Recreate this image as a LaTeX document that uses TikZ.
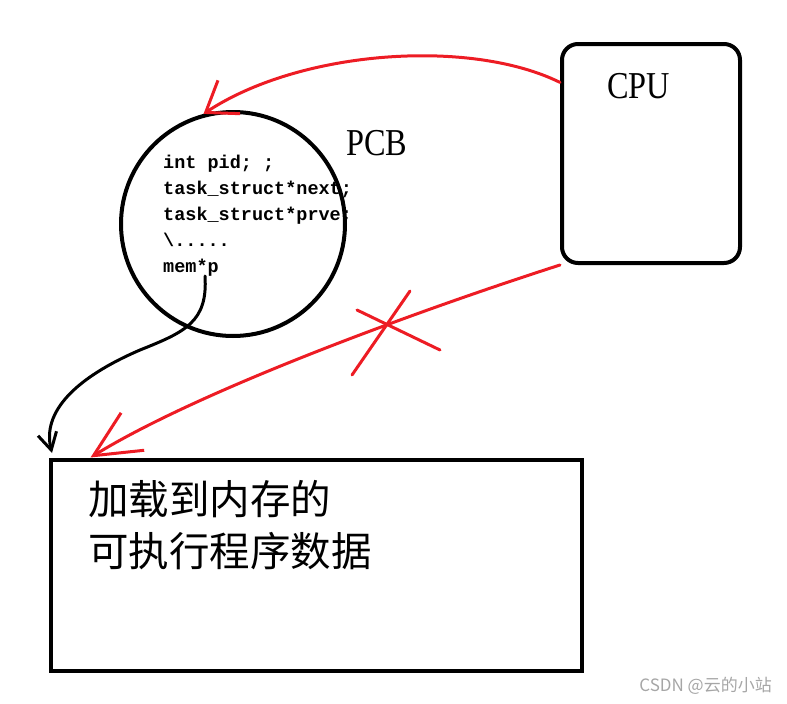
\documentclass[tikz,border=0pt]{standalone}
\usepackage{fontspec}
\setmainfont{Liberation Serif}
\newfontfamily\codefont{Liberation Mono}
\newfontfamily\cjkfont{Noto Sans CJK SC}
\usetikzlibrary{arrows.meta}
\definecolor{paintred}{RGB}{237,28,36}
\begin{document}
\begin{tikzpicture}[x=1pt,y=-1pt,
	box/.style={draw,line width=4pt,inner sep=0},
	redpen/.style={paintred,line width=3pt,line cap=round,line join=round},
	blackpen/.style={black,line width=3pt,line cap=round,line join=round},
	code/.style={anchor=base west,inner sep=0,font=\codefont\bfseries\fontsize{18.5}{20}\selectfont},
	big/.style={anchor=base west,inner sep=0,font=\fontsize{38}{40}\selectfont,xscale=0.85},
	cjk/.style={anchor=west,inner sep=0,font=\cjkfont\fontsize{40.5}{44}\selectfont}]
	\useasboundingbox (0,0) rectangle (787,704);
	
	% PCB and CPU
	\node[box,circle,minimum size=224pt] (pcb) at (233,224) {};
	\node[box,rounded corners=16pt,minimum width=178pt,minimum height=219pt] (cpu) at (651,153.5) {};
	\node[box,minimum width=531pt,minimum height=211pt] (mem) at (316,565) {};
	\draw (346,155) node[big]{PCB}  (607,98) node[big]{CPU};
	
	% fields of the PCB
	\foreach \i/\t in {0/{int pid; ;},1/{task\_struct*next;},2/{task\_struct*prve;},3/{\textbackslash.....},4/{mem*p}}
	\node[code] (f\i) at (163,168+26*\i) {\t};
	
	\node[cjk] (l1) at (88,499) {加载到内存的};
	\node[cjk] (l2) at (88,551) {可执行程序数据};
	
	% connectors
	\coordinate (p) at (205,276);
	\coordinate (memtip) at (52,453);
	\draw[redpen,-{Straight Barb[length=28pt,width=40pt]}] (cpu.142) .. controls (470,38) and (300,50) .. (pcb.105);
	\draw[redpen,-{Straight Barb[length=46pt,width=44pt]}] (cpu.south west) .. controls (420,310) and (200,390) .. ([xshift=42pt]mem.north west);
	\draw[blackpen,-{Straight Barb[length=17pt,width=19pt]}] (p) .. controls (208,322) and (185,332) .. (140,350) .. controls (75,378) and (42,412) .. (memtip);
	
	% cross on the red line
	\draw[redpen] (410,291)--(352,375) (357,310)--(440,350);
	
	\node[anchor=east,inner sep=0,text=gray!70,font=\cjkfont\fontsize{17}{18}\selectfont] (mark) at (772,686) {CSDN @云的小站};
\end{tikzpicture}
\end{document}
